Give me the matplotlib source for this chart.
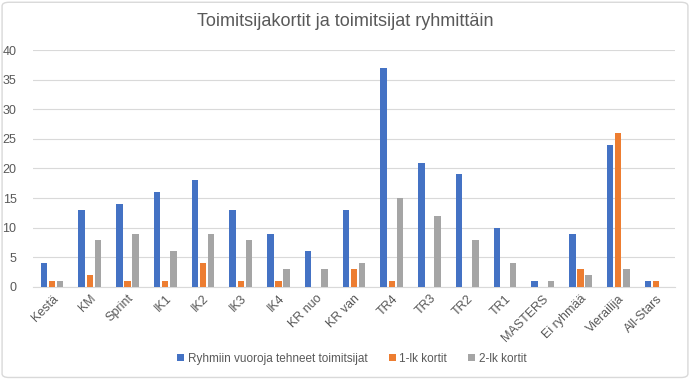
import numpy as np
import matplotlib
matplotlib.use("Agg")
import matplotlib.pyplot as plt
from matplotlib.patches import FancyBboxPatch

plt.rcParams["font.family"] = ["Liberation Sans", "DejaVu Sans"]

CATEGORIES = ["Kestä", "KM", "Sprint", "IK1", "IK2", "IK3", "IK4", "KR nuo",
              "KR van", "TR4", "TR3", "TR2", "TR1", "MASTERS", "Ei ryhmää",
              "Vierailija", "All-Stars"]
TOIMITSIJAT = [4, 13, 14, 16, 18, 13, 9, 6, 13, 37, 21, 19, 10, 1, 9, 24, 1]
KORTIT_1 = [1, 2, 1, 1, 4, 1, 1, 0, 3, 1, 0, 0, 0, 0, 3, 26, 1]
KORTIT_2 = [1, 8, 9, 6, 9, 8, 3, 3, 4, 15, 12, 8, 4, 1, 2, 3, 0]
SERIES = ["Ryhmiin vuoroja tehneet toimitsijat", "1-lk kortit", "2-lk kortit"]
COLORS = ["#4472C4", "#ED7D31", "#A5A5A5"]
TEXT = "#595959"

fig = plt.figure(figsize=(6.9, 3.79), dpi=100)
fig.patch.set_facecolor("white")
fig.patches.append(FancyBboxPatch((0.003, 0.004), 0.994, 0.99,
                                  boxstyle="round,pad=0,rounding_size=0.01",
                                  transform=fig.transFigure, fill=False,
                                  edgecolor="#d9d9d9", linewidth=1))
ax = fig.add_axes([0.048, 0.243, 0.93, 0.625])

x = np.arange(len(CATEGORIES))
w = 0.17
off = 0.215
for i, (vals, lab, col) in enumerate(zip([TOIMITSIJAT, KORTIT_1, KORTIT_2], SERIES, COLORS)):
    ax.bar(x + (i - 1) * off, vals, width=w, color=col, label=lab, zorder=3)

ax.set_xlim(-0.5, len(CATEGORIES) - 0.5)
ax.set_ylim(0, 40)
ax.set_yticks(range(0, 41, 5))
ax.grid(axis="y", color="#d9d9d9", linewidth=0.8, zorder=0)
for s in ["top", "right", "left"]:
    ax.spines[s].set_visible(False)
ax.spines["bottom"].set_color("#d9d9d9")
ax.tick_params(axis="both", length=0, colors=TEXT, labelsize=9)
ax.set_xticks(x)
ax.set_xticklabels(CATEGORIES, rotation=45, ha="right", rotation_mode="anchor")
ax.tick_params(axis="x", pad=4)
ax.tick_params(axis="y", pad=12)

fig.suptitle("Toimitsijakortit ja toimitsijat ryhmittäin", y=0.965,
             fontsize=13, color=TEXT)
fig.legend(loc="lower center", bbox_to_anchor=(0.51, 0.01), ncol=3,
           frameon=False, fontsize=8.5, handlelength=0.6, handleheight=0.6,
           handletextpad=0.3, columnspacing=1.8, labelcolor=TEXT)

fig.savefig("out.png", dpi=100)
